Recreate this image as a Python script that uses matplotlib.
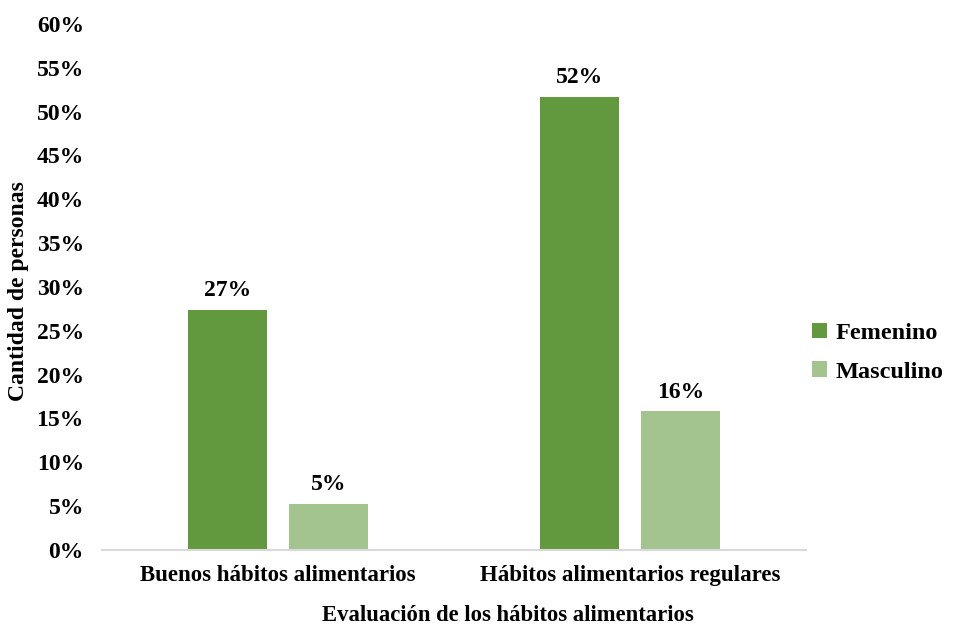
import matplotlib.pyplot as plt
import numpy as np

categorias = ["Buenos hábitos alimentarios", "Hábitos alimentarios regulares"]
femenino = [27.4, 51.7]
masculino = [5.3, 15.8]
series = ["Femenino", "Masculino"]
colores = ["#62993e", "#a3c48f"]

plt.rcParams['font.family'] = ['Liberation Serif', 'DejaVu Serif']
plt.rcParams['font.weight'] = 'bold'

fig = plt.figure(figsize=(9.57, 6.26), dpi=100)
ax = fig.add_axes([0.1066, 0.1214, 0.7356, 0.8403])

x = np.arange(len(categorias))
ancho = 0.225
desp = 0.143
for vals, off, nombre, col in zip([femenino, masculino], [-desp, desp], series, colores):
    barras = ax.bar(x + off, vals, ancho, color=col, label=nombre, zorder=2)
    ax.bar_label(barras, labels=[f"{v:.0f}%" for v in vals], padding=6,
                 fontsize=17, fontweight='bold')

ax.set_xlim(-0.5, 1.5)
ax.set_ylim(0, 60)
ax.set_yticks(np.arange(0, 61, 5))
ax.set_yticklabels([f"{t}%" for t in range(0, 61, 5)])
ax.set_xticks(x)
ax.set_xticklabels(categorias)
ax.tick_params(axis='y', length=0, labelsize=17, pad=13)
ax.tick_params(axis='x', length=0, labelsize=16.5, pad=11)

for s in ['top', 'right', 'left']:
    ax.spines[s].set_visible(False)
ax.spines['bottom'].set_color('#d9d9d9')
ax.spines['bottom'].set_linewidth(1.5)

ax.set_xlabel("Evaluación de los hábitos alimentarios", fontsize=16.3,
              fontweight='bold')
ax.xaxis.set_label_coords(0.576, -0.105)
ax.set_ylabel("Cantidad de personas", fontsize=17, fontweight='bold')
ax.yaxis.set_label_coords(-0.104, 0.492)

ax.legend(loc='center left', bbox_to_anchor=(0.978, 0.375), frameon=False,
          fontsize=17.5, handlelength=0.6, handleheight=0.6, handletextpad=0.35,
          labelspacing=0.7)

fig.savefig("out.png", dpi=100)
